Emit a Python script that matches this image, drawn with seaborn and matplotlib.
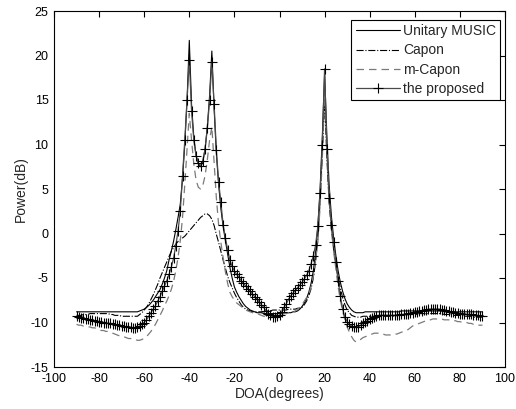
import matplotlib
matplotlib.use("Agg")
import matplotlib.pyplot as plt
import seaborn as sns
import pandas as pd

# DOA grid (degrees)
doa = list(range(-90, 91))

unitary_music = [
    -8.8, -8.8, -8.8, -8.8, -8.8, -8.8, -8.8, -8.8, -8.8, -8.8,
    -8.8, -8.8, -8.8, -8.8, -8.8, -8.8, -8.8, -8.8, -8.8, -8.8,
    -8.8, -8.8, -8.8, -8.8, -8.8, -8.8, -8.8, -8.8, -8.7, -8.6,
    -8.5, -8.3, -8.1, -7.8, -7.5, -7.1, -6.7, -6.3, -5.7, -5.0,
    -4.2, -3.0, -2.0, -0.9, 0.4, 1.8, 3.3, 6.2, 10.0, 15.0,
    21.7, 14.5, 10.8, 8.8, 7.8, 7.5, 8.0, 9.5, 12.0, 15.5,
    20.5, 14.0, 9.0, 5.5, 2.8, 0.8, -0.8, -2.3, -3.8, -5.0,
    -6.0, -6.6, -7.1, -7.5, -7.9, -8.2, -8.4, -8.6, -8.7, -8.8,
    -8.9, -8.9, -8.9, -9.0, -9.0, -9.0, -9.0, -9.0, -9.0, -9.0,
    -9.0, -9.0, -9.0, -8.9, -8.9, -8.9, -8.8, -8.8, -8.7, -8.5,
    -8.2, -7.8, -7.3, -6.6, -5.6, -4.2, -2.2, 0.8, 5.0, 11.0,
    18.0, 11.0, 5.5, 2.0, -0.5, -2.5, -4.2, -5.5, -6.5, -7.3,
    -7.9, -8.3, -8.6, -8.8, -8.9, -8.9, -8.9, -8.9, -8.8, -8.8,
    -8.8, -8.8, -8.8, -8.8, -8.8, -8.8, -8.8, -8.8, -8.8, -8.8,
    -8.8, -8.8, -8.8, -8.8, -8.7, -8.7, -8.7, -8.7, -8.7, -8.7,
    -8.7, -8.7, -8.7, -8.7, -8.7, -8.7, -8.7, -8.7, -8.7, -8.7,
    -8.7, -8.7, -8.7, -8.8, -8.8, -8.8, -8.8, -8.8, -8.8, -8.8,
    -8.8, -8.8, -8.8, -8.8, -8.8, -8.8, -8.8, -8.8, -8.8, -8.8,
    -8.8,
]

capon = [
    -9.2, -9.2, -9.2, -9.1, -9.1, -9.1, -9.0, -9.0, -9.0, -9.0,
    -9.0, -9.0, -9.0, -9.0, -9.0, -9.1, -9.1, -9.2, -9.2, -9.2,
    -9.3, -9.3, -9.3, -9.3, -9.3, -9.3, -9.3, -9.3, -9.1, -8.9,
    -8.6, -8.3, -7.9, -7.4, -6.9, -6.3, -5.7, -5.0, -4.4, -3.8,
    -3.2, -2.6, -2.0, -1.6, -1.2, -0.9, -0.7, -0.5, -0.3, 0.0,
    0.3, 0.6, 0.9, 1.2, 1.5, 1.8, 2.0, 2.2, 2.2, 2.0,
    1.6, 0.9, -0.1, -1.0, -2.0, -3.0, -3.9, -4.8, -5.5, -6.1,
    -6.7, -7.2, -7.6, -8.0, -8.3, -8.5, -8.6, -8.7, -8.8, -8.8,
    -8.8, -8.8, -8.8, -8.8, -8.7, -8.7, -8.7, -8.6, -8.6, -8.6,
    -8.6, -8.6, -8.6, -8.6, -8.5, -8.5, -8.5, -8.5, -8.4, -8.4,
    -8.3, -8.0, -7.6, -7.0, -6.2, -5.0, -3.2, -0.5, 3.5, 9.0,
    15.0, 8.5, 3.5, 0.5, -1.8, -3.6, -5.0, -6.2, -7.2, -8.0,
    -8.6, -8.9, -9.2, -9.3, -9.4, -9.4, -9.4, -9.3, -9.3, -9.3,
    -9.3, -9.3, -9.3, -9.3, -9.3, -9.3, -9.3, -9.3, -9.3, -9.3,
    -9.3, -9.3, -9.2, -9.2, -9.2, -9.2, -9.2, -9.1, -9.1, -9.1,
    -9.1, -9.1, -9.0, -9.0, -9.0, -9.0, -9.0, -9.0, -9.0, -9.0,
    -9.0, -9.0, -9.0, -9.1, -9.1, -9.1, -9.1, -9.2, -9.2, -9.2,
    -9.2, -9.2, -9.3, -9.3, -9.3, -9.3, -9.4, -9.4, -9.4, -9.4,
    -9.4,
]

m_capon = [
    -10.2, -10.3, -10.3, -10.4, -10.4, -10.5, -10.5, -10.6, -10.6, -10.7,
    -10.8, -10.9, -10.9, -11.0, -11.0, -11.1, -11.2, -11.3, -11.4, -11.5,
    -11.5, -11.6, -11.7, -11.8, -11.8, -11.9, -11.9, -12.0, -12.0, -11.9,
    -11.8, -11.6, -11.3, -11.0, -10.6, -10.2, -9.7, -9.2, -8.7, -8.1,
    -7.6, -7.0, -6.3, -5.4, -4.2, -2.7, -0.8, 1.8, 5.5, 9.5,
    13.5, 10.5, 7.8, 6.0, 5.2, 5.0, 5.4, 6.5, 8.3, 10.5,
    12.0, 8.0, 4.0, 1.0, -1.0, -2.7, -4.3, -5.6, -6.6, -7.1,
    -7.5, -7.8, -8.0, -8.2, -8.4, -8.6, -8.7, -8.8, -8.9, -9.0,
    -9.0, -9.1, -9.2, -9.3, -9.3, -9.4, -9.4, -9.3, -9.2, -9.1,
    -9.1, -9.1, -9.0, -9.0, -8.9, -8.8, -8.8, -8.7, -8.5, -8.3,
    -8.0, -7.6, -7.2, -6.8, -6.0, -4.9, -3.0, -1.0, 3.0, 8.5,
    16.0, 10.0, 4.0, 0.5, -2.0, -4.0, -6.0, -7.5, -8.7, -9.7,
    -10.5, -11.1, -11.6, -12.0, -12.2, -12.1, -11.9, -11.7, -11.6, -11.5,
    -11.4, -11.3, -11.2, -11.2, -11.2, -11.3, -11.3, -11.4, -11.4, -11.4,
    -11.4, -11.3, -11.3, -11.2, -11.1, -11.0, -10.9, -10.8, -10.6, -10.4,
    -10.3, -10.2, -10.1, -10.0, -9.9, -9.8, -9.7, -9.7, -9.6, -9.6,
    -9.6, -9.6, -9.6, -9.7, -9.7, -9.7, -9.8, -9.8, -9.8, -9.9,
    -9.9, -10.0, -10.0, -10.0, -10.1, -10.1, -10.2, -10.2, -10.3, -10.3,
    -10.3,
]

proposed = [
    -9.3, -9.4, -9.5, -9.5, -9.6, -9.6, -9.7, -9.7, -9.8, -9.8,
    -9.9, -9.9, -10.0, -10.0, -10.1, -10.1, -10.2, -10.2, -10.3, -10.3,
    -10.4, -10.4, -10.5, -10.5, -10.5, -10.6, -10.6, -10.5, -10.4, -10.2,
    -10.0, -9.7, -9.3, -8.9, -8.5, -8.1, -7.6, -7.1, -6.5, -5.9,
    -5.3, -4.6, -3.8, -2.8, -1.4, 0.3, 2.5, 6.5, 10.5, 15.0,
    19.5, 13.8, 10.5, 8.7, 7.9, 7.6, 8.2, 9.5, 11.8, 15.0,
    19.3, 14.5, 9.4, 5.8, 3.5, 1.0, -0.5, -1.8, -3.0, -3.7,
    -4.2, -4.6, -4.9, -5.3, -5.6, -5.9, -6.2, -6.5, -6.8, -7.1,
    -7.4, -7.7, -8.0, -8.3, -8.7, -9.0, -9.2, -9.4, -9.4, -9.3,
    -9.2, -8.8, -8.3, -7.9, -7.4, -7.0, -6.7, -6.4, -6.1, -5.8,
    -5.5, -5.1, -4.7, -4.2, -3.4, -2.5, -1.3, 0.8, 4.5, 10.0,
    18.5, 9.5, 4.0, 1.0, -1.0, -3.2, -5.3, -7.0, -8.5, -9.4,
    -9.9, -10.2, -10.4, -10.5, -10.5, -10.5, -10.3, -10.1, -9.9, -9.8,
    -9.6, -9.5, -9.4, -9.3, -9.2, -9.2, -9.2, -9.2, -9.2, -9.2,
    -9.2, -9.2, -9.2, -9.2, -9.1, -9.1, -9.0, -9.0, -8.9, -8.9,
    -8.8, -8.8, -8.7, -8.7, -8.6, -8.6, -8.5, -8.5, -8.5, -8.5,
    -8.5, -8.5, -8.6, -8.6, -8.7, -8.7, -8.8, -8.8, -8.9, -8.9,
    -9.0, -9.0, -9.0, -9.1, -9.1, -9.1, -9.2, -9.2, -9.2, -9.3,
    -9.3,
]

series_names = ["Unitary MUSIC", "Capon", "m-Capon", "the proposed"]
x_ticks = [-100, -80, -60, -40, -20, 0, 20, 40, 60, 80, 100]
y_ticks = [-15, -10, -5, 0, 5, 10, 15, 20, 25]

sns.set_style("white")
plt.rcParams["font.family"] = ["Liberation Sans", "DejaVu Sans"]

W, H = 516, 409
fig = plt.figure(figsize=(W / 100, H / 100), dpi=100)
ax = fig.add_axes([54 / W, 1 - 367 / H, (505 - 54) / W, (367 - 11) / H])

df = pd.DataFrame({"doa": doa, "music": unitary_music, "capon": capon,
                   "mcapon": m_capon, "proposed": proposed})

sns.lineplot(data=df, x="doa", y="music", ax=ax, color="black", lw=0.8,
             linestyle="-", label=series_names[0], estimator=None, sort=False)
sns.lineplot(data=df, x="doa", y="capon", ax=ax, color="black", lw=0.8,
             linestyle="-.", label=series_names[1], estimator=None, sort=False)
sns.lineplot(data=df, x="doa", y="mcapon", ax=ax, color="#7a7a7a", lw=0.9,
             linestyle=(0, (6, 4)), label=series_names[2], estimator=None, sort=False)
sns.lineplot(data=df, x="doa", y="proposed", ax=ax, color="#4a4a4a", lw=0.9,
             linestyle="-", marker="+", markersize=7, markeredgewidth=0.8,
             markeredgecolor="black", label=series_names[3],
             estimator=None, sort=False)

ax.set_xlim(-100, 100)
ax.set_ylim(-15, 25)
ax.set_xticks(x_ticks)
ax.set_yticks(y_ticks)
ax.set_xticklabels([str(v) for v in x_ticks])
ax.set_yticklabels([str(v) for v in y_ticks])
ax.tick_params(direction="in", length=4, width=0.8, top=True, right=True,
               labelsize=9, colors="black", pad=4)
for s in ax.spines.values():
    s.set_visible(True)
    s.set_color("black")
    s.set_linewidth(0.8)

ax.set_xlabel("DOA(degrees)", fontsize=10, labelpad=2)
ax.set_ylabel("Power(dB)", fontsize=10, labelpad=2)

leg = ax.legend(loc="upper right", bbox_to_anchor=(500 / W, 1 - 20 / H),
                bbox_transform=fig.transFigure, borderaxespad=0,
                fontsize=10, frameon=True, fancybox=False, framealpha=1,
                edgecolor="black", handlelength=3.2, handletextpad=0.2,
                labelspacing=0.38, borderpad=0.3, numpoints=1)
leg.get_frame().set_linewidth(0.8)

fig.savefig("out.png", dpi=100, facecolor="white")
